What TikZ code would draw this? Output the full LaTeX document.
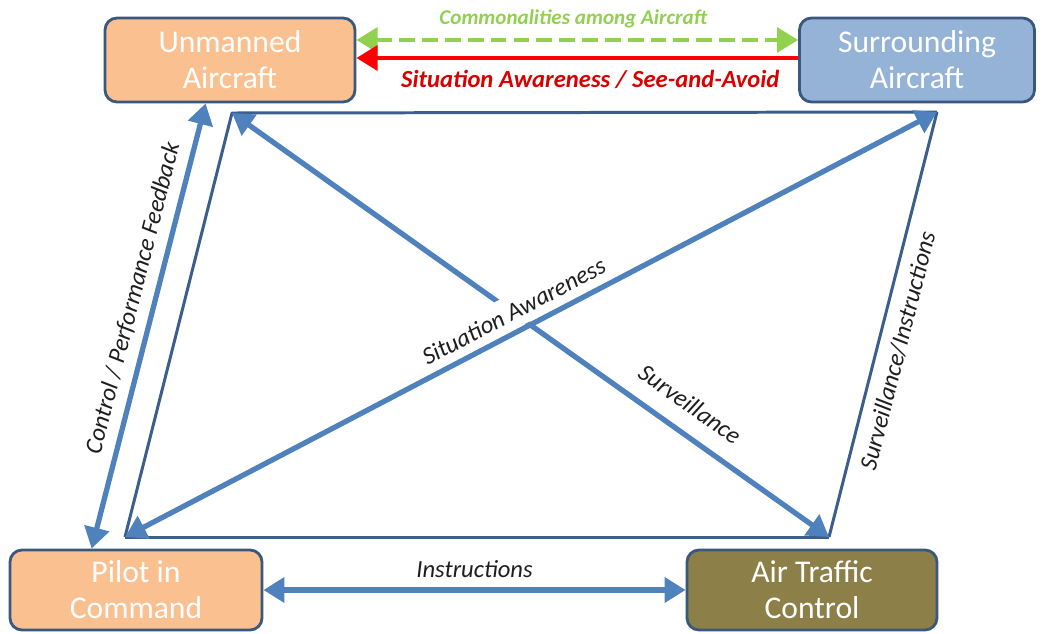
\documentclass[tikz,border=0pt]{standalone}
\usepackage{fontspec}
\setmainfont{Carlito}
\usetikzlibrary{arrows.meta}
\definecolor{peach}{RGB}{250,192,144}
\definecolor{skyblue}{RGB}{149,179,215}
\definecolor{olivebox}{RGB}{140,127,72}
\definecolor{boxline}{RGB}{58,88,125}
\definecolor{flowblue}{RGB}{79,129,189}
\definecolor{framblue}{RGB}{59,94,140}
\definecolor{greenflow}{RGB}{146,208,80}
\definecolor{labelgray}{RGB}{30,30,30}
\tikzset{
  box/.style={draw=boxline, line width=1.6pt, rounded corners=2.4mm, align=center,
    text=white, font=\fontsize{18}{20.5}\selectfont, inner sep=0pt},
  flow/.style={draw=flowblue, line width=3pt},
  frameline/.style={draw=framblue, line width=1.7pt},
  lbl/.style={text=labelgray, font=\itshape\fontsize{14}{16}\selectfont, inner sep=1pt},
}
\begin{document}
\begin{tikzpicture}[x=0.2mm, y=-0.2mm, line join=round, >={Triangle[width=14pt,length=12pt]}]
\useasboundingbox (0,0) rectangle (1042,633);
% boxes
\node[box, fill=peach, minimum width=50mm, minimum height=16.8mm] (ua) at (230,60) {Unmanned\\Aircraft};
\node[box, fill=skyblue, minimum width=47mm, minimum height=16.8mm] (sa) at (917,60) {Surrounding\\Aircraft};
\node[box, fill=peach, minimum width=50.4mm, minimum height=16mm] (pic) at (136,590) {Pilot in\\Command};
\node[box, fill=olivebox, minimum width=50mm, minimum height=16mm] (atc) at (812,590) {Air Traffic\\Control};
% corners of the frame
\coordinate (tl) at (232,113);
\coordinate (tr) at (937,112);
\coordinate (br) at (829,537);
\coordinate (bl) at (125,537);
% aircraft to aircraft
\draw[draw=greenflow, line width=2.4pt, dash pattern=on 9pt off 4pt, <->]
  ([yshift=4mm]ua.east) -- node[above=2mm, xshift=-0.8mm, text=greenflow, font=\bfseries\itshape\fontsize{12}{14}\selectfont, inner sep=0pt]{Commonalities among Aircraft} ([yshift=4mm]sa.west);
\draw[draw=red, line width=2.4pt, ->]
  ([yshift=0.4mm]sa.west) -- node[below=2mm, text=red!85!black, font=\bfseries\itshape\fontsize{14}{16}\selectfont, inner sep=0pt, xshift=2.6mm]{Situation Awareness / See-and-Avoid} ([yshift=0.4mm]ua.east);
% frame
\draw[frameline] (bl) -- (tl) -- (tr);
\draw[frameline] (bl) -- (br);
\draw[frameline] (br) -- node[sloped, below=1.7mm, pos=0.45, lbl]{Surveillance/Instructions} (tr);
% diagonals
\draw[flow, <->] (tl) -- node[sloped, above=3mm, pos=0.74, lbl]{Surveillance} (br);
\path (bl) -- node[sloped, above=0.6mm, pos=0.49, lbl, fill=white, inner ysep=1.6mm]{Situation Awareness} (tr);
\draw[flow, <->] (bl) -- (tr);
% pilot links
\draw[flow, <->] ([xshift=16.6mm]pic.north west) -- node[sloped, above=1.5mm, pos=0.55, lbl]{Control / Performance Feedback} ([xshift=20.4mm]ua.south west);
\draw[flow, <->] (pic.east) -- node[above=1.6mm, lbl]{Instructions} (atc.west);
\end{tikzpicture}
\end{document}
